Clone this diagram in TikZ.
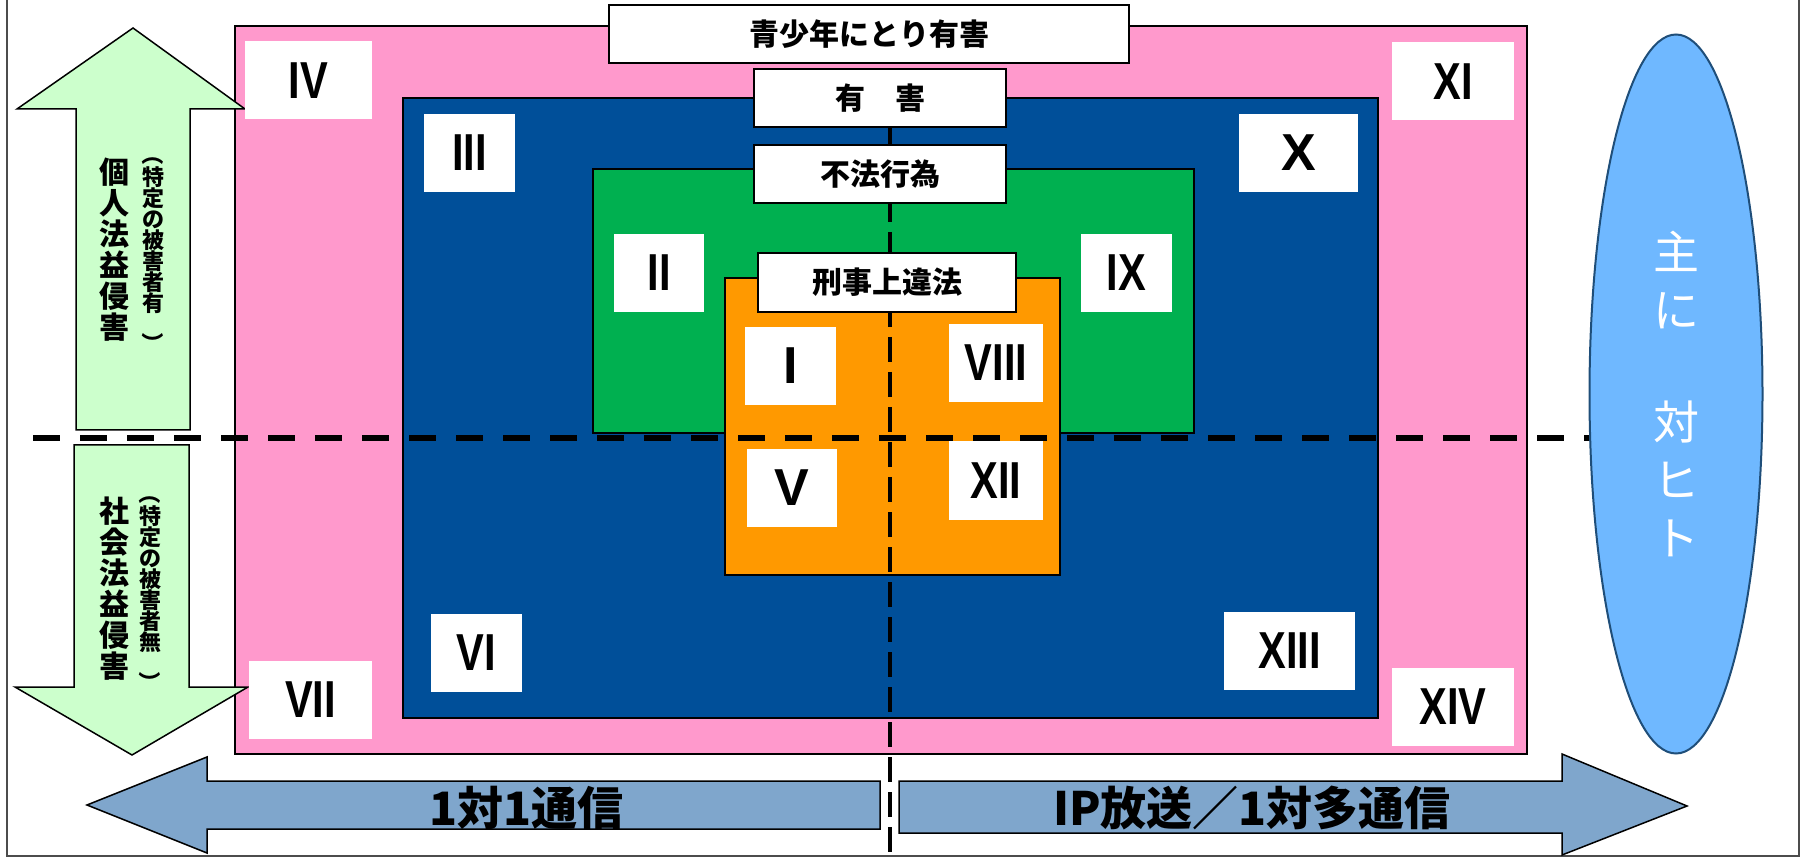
\documentclass[tikz,border=0pt]{standalone}
\usepackage{fontspec}
\usepackage{xcolor}
\usepackage{graphicx}
\usetikzlibrary{shapes.geometric}

\newfontfamily\jpfont{Noto Sans CJK JP}
\newfontfamily\numfont{Liberation Sans}

\definecolor{harmpink}{HTML}{FF99CC}
\definecolor{harmblue}{HTML}{004F99}
\definecolor{tortgreen}{HTML}{00B050}
\definecolor{crimeorange}{HTML}{FF9900}
\definecolor{arrowgreen}{HTML}{CCFFCC}
\definecolor{arrowblue}{HTML}{7FA6CC}
\definecolor{targetblue}{HTML}{6FB8FF}
\definecolor{targetedge}{HTML}{1F4E79}

% narrow roman numerals
\newcommand{\rn}[1]{\scalebox{0.8}[1]{#1}}

\begin{document}
\begin{tikzpicture}[x=1pt,y=-1pt,
	numbox/.style={fill=white, inner sep=0pt, minimum height=78pt,
		font=\numfont\fontsize{52}{52}\selectfont\bfseries},
	titlebox/.style={draw, fill=white, line width=2.5pt, inner sep=0pt, minimum height=58pt,
		font=\jpfont\fontsize{30}{30}\selectfont\bfseries},
	area/.style={draw=black, line width=2.5pt},
	sidelabel/.style={align=center, inner sep=0pt, font=\jpfont\fontsize{30}{31}\selectfont\bfseries},
	sidenote/.style={align=center, inner sep=0pt, font=\jpfont\fontsize{22}{21}\selectfont\bfseries},
	bottomlabel/.style={inner sep=0pt, font=\jpfont\fontsize{46}{46}\selectfont\bfseries}]
	\useasboundingbox (0,0) rectangle (1808,858);

	% outer frame
	\draw[line width=2pt, black!70] (7,0) -- (7,856) -- (1799,856) -- (1799,0);

	% nested areas
	\filldraw[area, fill=harmpink] (235,26) rectangle (1527,754);
	\filldraw[area, fill=harmblue] (403,98) rectangle (1378,718);
	\filldraw[area, fill=tortgreen] (593,169) rectangle (1194,433);
	\filldraw[area, fill=crimeorange] (725,278) rectangle (1060,575);

	% dividing lines
	\coordinate (vtop) at (890,127);
	\coordinate (vbot) at (890,858);
	\coordinate (hleft) at (33,438);
	\coordinate (hright) at (1600,438);
	\draw[line width=6.5pt, dash pattern=on 27pt off 20pt] (hleft) -- (hright);
	\draw[line width=3.5pt, dash pattern=on 25pt off 10pt] (vtop) -- (vbot);

	% side arrows
	\filldraw[fill=arrowgreen, line width=1.5pt] (76,430) -- (76,109) -- (17,109) -- (133,28)
		-- (245,109) -- (190,109) -- (190,430) -- cycle;
	\filldraw[fill=arrowgreen, line width=1.5pt] (74,445) -- (189,445) -- (189,687) -- (248,687)
		-- (132,755) -- (15,687) -- (74,687) -- cycle;

	% bottom arrows
	\filldraw[fill=arrowblue, line width=1.5pt] (880,781) -- (207,781) -- (207,757) -- (87,805)
		-- (207,853) -- (207,829) -- (880,829) -- cycle;
	\filldraw[fill=arrowblue, line width=1.5pt] (899,781) -- (1562,781) -- (1562,754) -- (1687,806)
		-- (1562,855) -- (1562,833) -- (899,833) -- cycle;

	% target ellipse
	\node (target) [ellipse, draw=targetedge, line width=2pt, fill=targetblue, inner sep=0pt,
		minimum width=173pt, minimum height=719pt, text=white, align=center,
		font=\jpfont\fontsize{46}{58}\selectfont] at (1676,394) {主\\に\\[54pt]対\\ヒ\\ト};

	% number boxes
	\node (n4) [numbox, minimum width=127pt] at (308.5,80.5) {\rn{IV}};
	\node (n3) [numbox, minimum width=91pt] at (469.5,153) {\rn{III}};
	\node (n10) [numbox, minimum width=119pt] at (1298.5,153) {X};
	\node (n11) [numbox, minimum width=122pt] at (1453,81.5) {\rn{XI}};
	\node (n2) [numbox, minimum width=90pt] at (659,273) {\rn{II}};
	\node (n9) [numbox, minimum width=91pt] at (1126.5,273) {\rn{IX}};
	\node (n1) [numbox, minimum width=91pt] at (790.5,366) {I};
	\node (n8) [numbox, minimum width=94pt] at (996,363) {\rn{VIII}};
	\node (n5) [numbox, minimum width=90pt] at (792,488) {V};
	\node (n12) [numbox, minimum width=94pt] at (996,480.5) {\rn{XII}};
	\node (n6) [numbox, minimum width=91pt] at (476.5,653) {\rn{VI}};
	\node (n13) [numbox, minimum width=131pt] at (1289.5,651) {\rn{XIII}};
	\node (n7) [numbox, minimum width=123pt] at (310.5,699.5) {\rn{VII}};
	\node (n14) [numbox, minimum width=122pt] at (1453,707) {\rn{XIV}};

	% title boxes
	\node (young) [titlebox, minimum width=520pt] at (869,34) {青少年にとり有害};
	\node (harm) [titlebox, minimum width=252pt] at (880,98) {有　害};
	\node (tort) [titlebox, minimum width=252pt] at (880,174) {不法行為};
	\node (crime) [titlebox, minimum width=258pt, minimum height=59pt] at (887,282.5) {刑事上違法};

	% side labels
	\node (personal) [sidelabel] at (114,250) {個\\人\\法\\益\\侵\\害};
	\node (personalnote) [sidenote] at (153,249)
		{\rotatebox{-90}{（}\\特\\定\\の\\被\\害\\者\\有\\\rotatebox{-90}{）}};
	\node (social) [sidelabel] at (114,589) {社\\会\\法\\益\\侵\\害};
	\node (socialnote) [sidenote] at (150,588)
		{\rotatebox{-90}{（}\\特\\定\\の\\被\\害\\者\\無\\\rotatebox{-90}{）}};

	% bottom labels
	\node (oneone) [bottomlabel, anchor=west] at (429,808) {1対1通信};
	\node (broadcast) [bottomlabel, anchor=west] at (1053,808) {IP放送／1対多通信};
\end{tikzpicture}
\end{document}
